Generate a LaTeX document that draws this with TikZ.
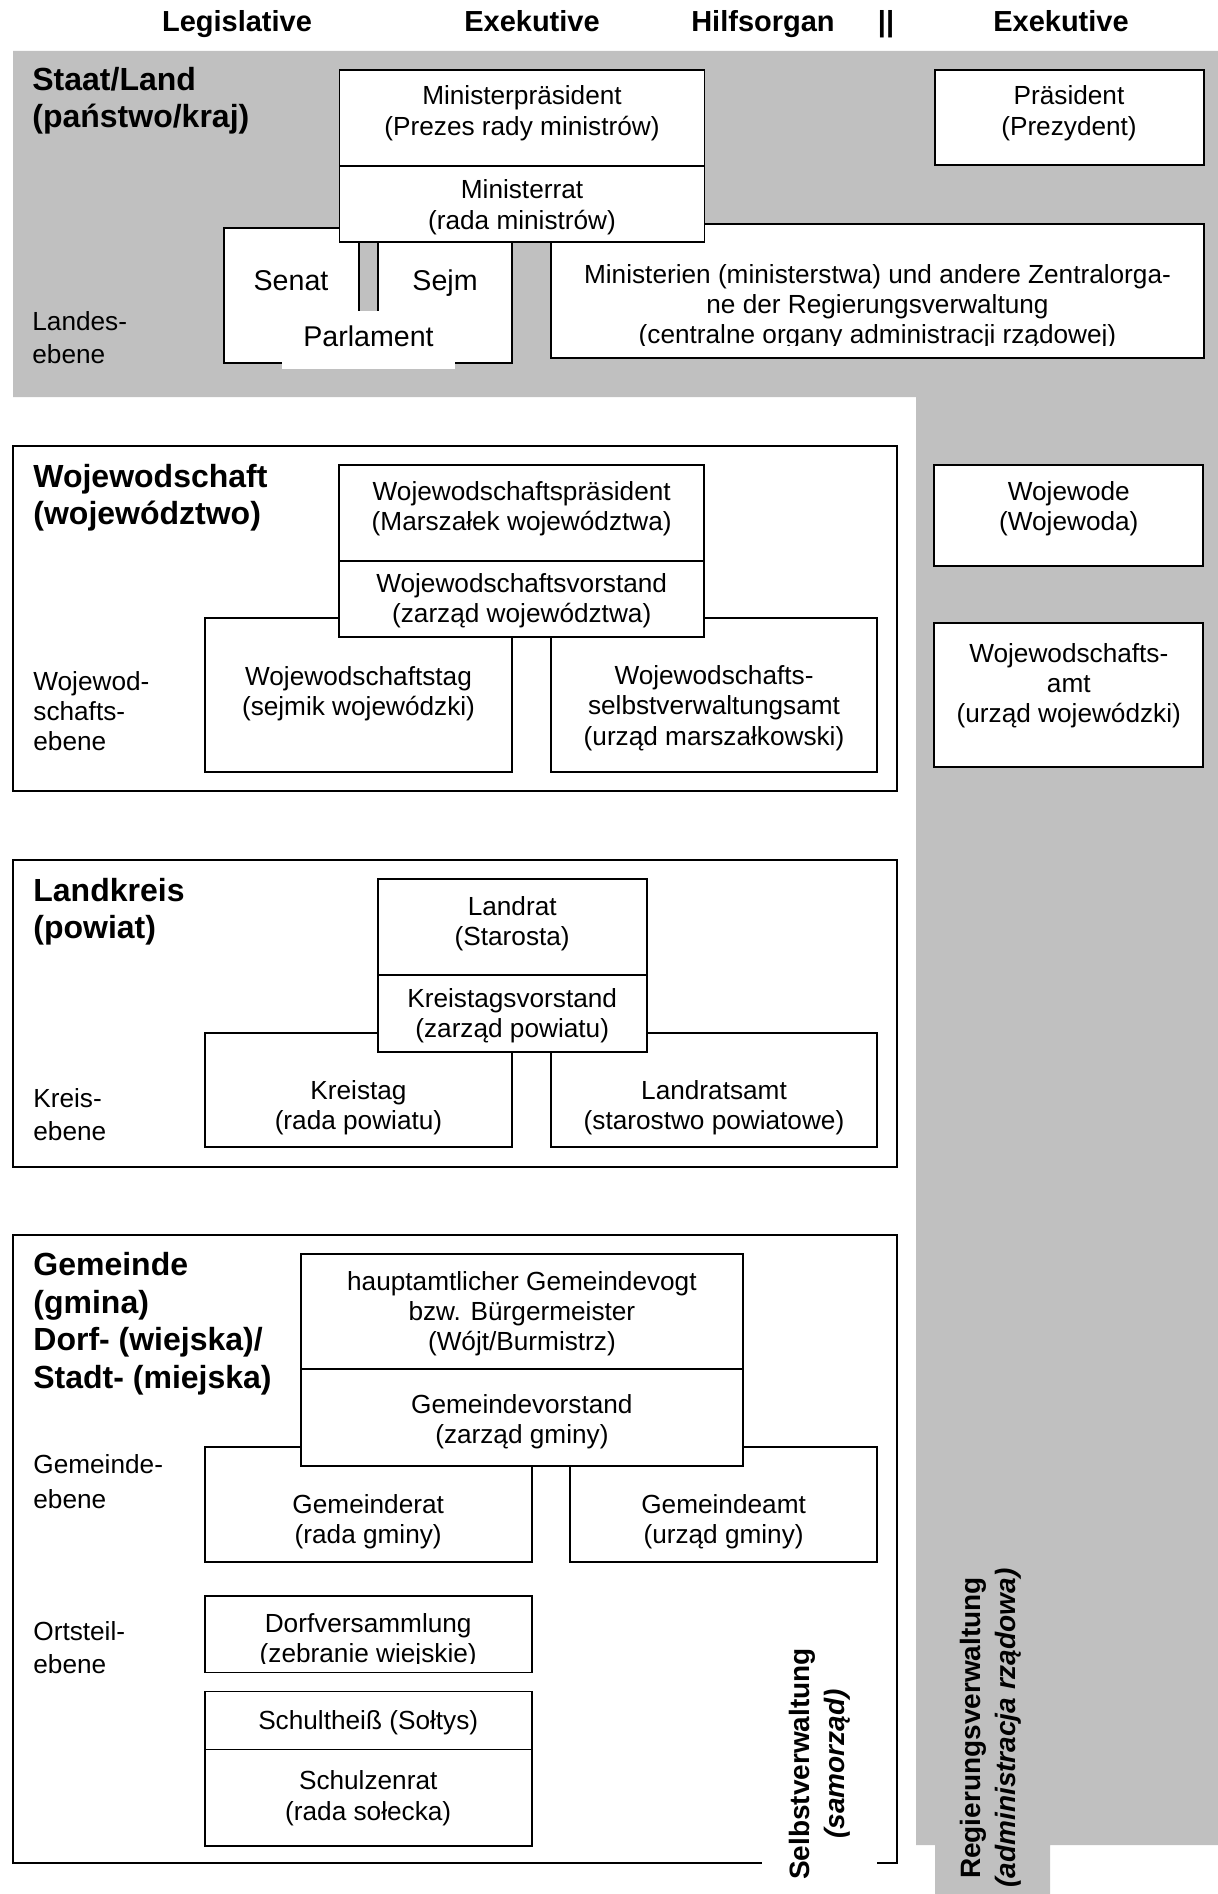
\documentclass[tikz,border=0pt]{standalone}
\usepackage{fontspec}
\setmainfont{Liberation Sans}
\usetikzlibrary{fit}
\definecolor{bg}{RGB}{192,192,192}
\newcommand\fr{\rule{0pt}{10.5pt}}
\newcommand\hr{\rule{0pt}{12.5pt}}
\newcommand\vr{\rule{0pt}{11pt}}
\tikzset{
  boxst/.style={draw=black, fill=white, line width=0.9pt, inner sep=0pt},
  divl/.style={line width=0.9pt},
  txt/.style={anchor=north, inner sep=0pt, align=center, font=\fontsize{13.1}{15.1}\selectfont},
  one/.style={anchor=base, inner sep=0pt, font=\fontsize{13.1}{15.1}\selectfont},
  big/.style={anchor=base, inner sep=0pt, font=\fontsize{14.3}{16}\selectfont},
  hd/.style={anchor=north west, inner sep=0pt, align=left, font=\fontsize{16}{18.8}\selectfont\bfseries},
  lbl/.style={anchor=north west, inner sep=0pt, align=left, font=\fontsize{13.1}{#1}\selectfont},
  colhd/.style={anchor=base, inner sep=0pt, font=\fontsize{14.5}{17}\selectfont\bfseries},
  vlab/.style={rotate=90, anchor=north, inner sep=0pt, align=center, font=\fontsize{14}{17.5}\selectfont\bfseries},
}
\begin{document}
\begin{tikzpicture}[x=0.5pt,y=-0.5pt]
\fill[white] (0,0) rectangle (1218,1894);
\fill[bg] (13,51) -- (1218,51) -- (1218,1845) -- (1050,1845) -- (1050,1894) -- (935,1894) -- (935,1845) -- (916,1845) -- (916,397) -- (13,397) -- cycle;

% ---- Staat / Land
\node[boxst, fit={(224,228) (512,362.7)}] (senat) {};
\node[boxst, fit={(551,224) (1204,358)}] (minis) {};
\fill[bg] (359,242.3) rectangle (378,311);
\draw[divl] (359,242.3) -- (359,311) (378,242.3) -- (378,311);
\node[boxst, fit={(339.5,70) (704.5,242.3)}] (mp) {};
\draw[divl] (339.5,165.7) -- (704.5,165.7);
\node[boxst, fit={(934.7,70) (1204,164.7)}] (praes) {};
\fill[white] (282,311) rectangle (455,369);

% ---- Wojewodschaft
\node[boxst, fit={(12.7,446) (896.7,791)}] (wojout) {};
\node[boxst, fit={(204.7,618.3) (512.3,772.3)}] (wtag) {};
\node[boxst, fit={(550.7,618.3) (877.3,772.3)}] (wsva) {};
\node[boxst, fit={(339.3,465) (704,637.3)}] (wp) {};
\draw[divl] (339.3,560.7) -- (704,560.7);
\node[boxst, fit={(934.3,465) (1203.3,566)}] (wwode) {};
\node[boxst, fit={(934.3,623.3) (1203.3,766.7)}] (wamt) {};

% ---- Landkreis
\node[boxst, fit={(12.7,860) (896.7,1166.7)}] (lkout) {};
\node[boxst, fit={(204.7,1032.7) (512.3,1147.3)}] (ktag) {};
\node[boxst, fit={(550.7,1032.7) (877.3,1147.3)}] (lamt) {};
\node[boxst, fit={(377.7,879.3) (646.7,1051.7)}] (lrat) {};
\draw[divl] (377.7,975) -- (646.7,975);

% ---- Gemeinde
\node[boxst, fit={(12.7,1235) (896.7,1863)}] (gout) {};
\node[boxst, fit={(204.7,1446.7) (531.7,1561.7)}] (grat) {};
\node[boxst, fit={(570,1446.7) (877.3,1561.7)}] (gamt) {};
\node[boxst, fit={(301,1254) (742.7,1466)}] (hv) {};
\draw[divl] (301,1369.3) -- (742.7,1369.3);
\node[boxst, fit={(204.7,1596) (531.7,1672.5)}] (dorf) {};
\node[boxst, fit={(204.7,1691.5) (531.7,1846)}] (schult) {};
\draw[divl] (204.7,1749.5) -- (531.7,1749.5);
\fill[white] (762,1640) rectangle (877,1894);

% ---- column headers
\node[colhd] (hleg) at (237,32) {Legislative};
\node[colhd] (hexe) at (532,32) {Exekutive};
\node[colhd] (hhil) at (763,32) {Hilfsorgan};
\node[colhd] (hsep) at (886,32) {||};
\node[colhd] (hexe2) at (1061,32) {Exekutive};

% ---- headings
\node[hd] (tstaat) at (32,65) {\hr Staat/Land\\(państwo/kraj)};
\node[hd] (twoj) at (33,461.7) {\hr Wojewodschaft\\(województwo)};
\node[hd] (tlk) at (33,875.7) {\hr Landkreis\\(powiat)};
\node[hd] (tgem) at (33,1250) {\hr Gemeinde\\(gmina)\\Dorf- (wiejska)/\\Stadt- (miejska)};

% ---- level labels
\node[lbl=16.3] (llandes) at (32,309) {\fr Landes-\\ebene};
\node[lbl=15.1] (lwoj) at (33,669) {\fr Wojewod-\\schafts-\\ebene};
\node[lbl=16.5] (lkreis) at (33,1085.7) {\fr Kreis-\\ebene};
\node[lbl=17.6] (lgem) at (33,1452) {\fr Gemeinde-\\ebene};
\node[lbl=16.5] (lort) at (33,1619.5) {\fr Ortsteil-\\ebene};

% ---- box texts: Staat
\node[txt] (tmp) at (522,83.5) {\fr Ministerpräsident\\(Prezes rady ministrów)};
\node[txt] (tmr) at (522,177.5) {\fr Ministerrat\\(rada ministrów)};
\node[txt] (tpr) at (1069,83.5) {\fr Präsident\\(Prezydent)};
\node[big] (tsenat) at (291,290) {Senat};
\node[big] (tsejm) at (445,290) {Sejm};
\node[big] (tparl) at (368.5,346.7) {Parlament};
\begin{scope}
\clip (551,224) rectangle (1204,345.5);
\node[txt] (tmin) at (877.5,261.7) {\fr Ministerien (ministerstwa) und andere Zentralorga-\\ne der Regierungsverwaltung\\(centralne organy administracji rządowej)};
\end{scope}

% ---- Wojewodschaft texts
\node[txt] (twp) at (521.7,479) {\fr Wojewodschaftspräsident\\(Marszałek województwa)};
\node[txt] (twv) at (521.7,570.7) {\fr Wojewodschaftsvorstand\\(zarząd województwa)};
\node[txt] (twtag) at (358.5,664) {\fr Wojewodschaftstag\\(sejmik wojewódzki)};
\node[txt] (twsva) at (714,663.3) {\fr Wojewodschafts-\\selbstverwaltungsamt\\(urząd marszałkowski)};
\node[txt] (twode) at (1068.8,479) {\fr Wojewode\\(Wojewoda)};
\node[txt] (twamt) at (1068.8,640.7) {\fr Wojewodschafts-\\amt\\(urząd wojewódzki)};

% ---- Landkreis texts
\node[txt] (tlrat) at (512.2,894) {\fr Landrat\\(Starosta)};
\node[txt] (tkv) at (512.2,985.7) {\fr Kreistagsvorstand\\(zarząd powiatu)};
\node[txt] (tktag) at (358.5,1078) {\fr Kreistag\\(rada powiatu)};
\node[txt] (tlamt) at (714,1078) {\fr Landratsamt\\(starostwo powiatowe)};

% ---- Gemeinde texts
\node[txt] (thv) at (521.9,1269) {\fr hauptamtlicher Gemeindevogt\\bzw. Bürgermeister\\(Wójt/Burmistrz)};
\node[txt] (tgv) at (521.9,1391.7) {\fr Gemeindevorstand\\(zarząd gminy)};
\node[txt] (tgrat) at (368.2,1492) {\fr Gemeinderat\\(rada gminy)};
\node[txt] (tgamt) at (723.6,1492) {\fr Gemeindeamt\\(urząd gminy)};
\begin{scope}
\clip (204.7,1596) rectangle (531.7,1663.5);
\node[txt] (tdorf) at (368.2,1611) {\fr Dorfversammlung\\(zebranie wiejskie)};
\end{scope}
\node[one] (tschult) at (368.2,1729) {Schultheiß (Sołtys)};
\node[txt] (tschulz) at (368.2,1768.5) {\fr Schulzenrat\\(rada sołecka)};

% ---- vertical labels
\node[vlab] (vselbst) at (787,1764) {\vr Selbstverwaltung\\\textit{(samorząd)}};
\node[vlab] (vreg) at (958,1728) {\vr Regierungsverwaltung\\\textit{(administracja rządowa)}};
\end{tikzpicture}
\end{document}
